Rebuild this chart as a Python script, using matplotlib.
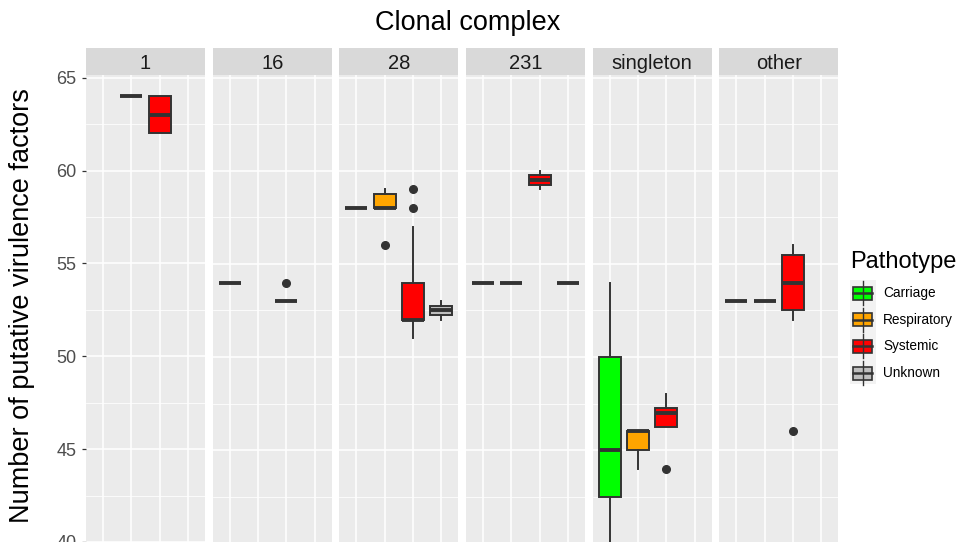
import matplotlib
matplotlib.use("Agg")
import matplotlib.pyplot as plt
from matplotlib.patches import Rectangle
from matplotlib.lines import Line2D
from matplotlib.ticker import MultipleLocator

plt.rcParams['font.family'] = ['Liberation Sans', 'DejaVu Sans']

facets = ["1", "16", "28", "231", "singleton", "other"]
pathotypes = ["Carriage", "Respiratory", "Systemic", "Unknown"]
colors = ["#00FF00", "#FFA500", "#FF0000", "#BEBEBE"]

box_facet = ["1", "1", "16", "16", "28", "28", "28", "28", "231", "231", "231", "231",
             "singleton", "singleton", "singleton", "other", "other", "other"]
box_type = ["Respiratory", "Systemic", "Carriage", "Systemic", "Carriage", "Respiratory",
            "Systemic", "Unknown", "Carriage", "Respiratory", "Systemic", "Unknown",
            "Carriage", "Respiratory", "Systemic", "Carriage", "Respiratory", "Systemic"]
box_whislo = [64, 62, 54, 53, 58, 58, 51, 52, 54, 54, 59, 54, 37, 44, 46.25, 53, 53, 52]
box_q1 = [64, 62, 54, 53, 58, 58, 52, 52.25, 54, 54, 59.25, 54, 42.5, 45, 46.25, 53, 53, 52.5]
box_med = [64, 63, 54, 53, 58, 58, 52, 52.5, 54, 54, 59.5, 54, 45, 46, 47, 53, 53, 54]
box_q3 = [64, 64, 54, 53, 58, 58.75, 54, 52.75, 54, 54, 59.75, 54, 50, 46, 47.25, 53, 53, 55.5]
box_whishi = [64, 64, 54, 53, 58, 59, 57, 53, 54, 54, 60, 54, 54, 46, 48, 53, 53, 56]
box_fliers = [[], [], [], [54], [], [56], [58, 59], [], [], [], [], [],
              [], [], [44], [], [], [46]]

y_ticks = [40, 45, 50, 55, 60, 65]

W, H = 962, 542
fig = plt.figure(figsize=(W / 100, H / 100), dpi=100)
fig.patch.set_facecolor("white")

panel_left = [86, 212.7, 339.3, 466, 592.7, 719.3]
panel_w = 119
panel_top = 75.5
strip_top = 48.3

EDGE = "#333333"

def fx(px):
    return px / W

def fy(py):
    return 1 - py / H

for i, fac in enumerate(facets):
    ax = fig.add_axes([fx(panel_left[i]), 0, panel_w / W, fy(panel_top)])
    ax.set_facecolor("#EBEBEB")
    for s in ax.spines.values():
        s.set_visible(False)
    ax.set_xlim(0.4, 4.6)
    ax.set_ylim(40.06, 65.12)
    ax.yaxis.set_major_locator(MultipleLocator(5))
    ax.yaxis.set_minor_locator(MultipleLocator(2.5))
    ax.set_xticks([1, 2, 3, 4])
    ax.grid(True, which="major", color="white", lw=1.1)
    ax.grid(True, which="minor", axis="y", color="white", lw=0.55)
    ax.set_axisbelow(True)
    ax.tick_params(axis="x", length=0, labelbottom=False)
    ax.tick_params(axis="y", which="minor", length=0)
    if i == 0:
        ax.set_yticks(y_ticks)
        ax.tick_params(axis="y", which="major", length=3, width=0.9, color=EDGE,
                       labelsize=13, labelcolor="#4D4D4D", pad=4)
    else:
        ax.tick_params(axis="y", which="major", length=0, labelleft=False)

    stats, pos, cols = [], [], []
    for j in range(len(box_facet)):
        if box_facet[j] != fac:
            continue
        k = pathotypes.index(box_type[j])
        stats.append(dict(med=box_med[j], q1=box_q1[j], q3=box_q3[j],
                          whislo=box_whislo[j], whishi=box_whishi[j],
                          fliers=box_fliers[j]))
        pos.append(k + 1)
        cols.append(colors[k])
    if stats:
        bp = ax.bxp(stats, positions=pos, widths=0.77, patch_artist=True,
                    showcaps=False, manage_ticks=False,
                    boxprops=dict(edgecolor=EDGE, linewidth=1.4),
                    whiskerprops=dict(color=EDGE, linewidth=1.4),
                    medianprops=dict(color=EDGE, linewidth=2.8, solid_capstyle="butt"),
                    flierprops=dict(marker="o", markerfacecolor=EDGE,
                                    markeredgecolor=EDGE, markersize=5.5))
        for patch, c in zip(bp["boxes"], cols):
            patch.set_facecolor(c)

    # strip
    sax = fig.add_axes([fx(panel_left[i]), fy(panel_top - 0.3), panel_w / W,
                        (panel_top - 0.3 - strip_top) / H])
    sax.set_facecolor("#D9D9D9")
    sax.set_xticks([]); sax.set_yticks([])
    for s in sax.spines.values():
        s.set_visible(False)
    sax.text(0.5, 0.45, fac, ha="center", va="center", fontsize=14.5,
             color="#1A1A1A", transform=sax.transAxes)

fig.text(fx(468), fy(23), "Clonal complex", ha="center", va="center",
         fontsize=19.5, color="black")
fig.text(fx(22), fy(306), "Number of putative virulence factors", ha="center",
         va="center", rotation=90, fontsize=19.5, color="black")

# legend
lax = fig.add_axes([0, 0, 1, 1])
lax.set_xlim(0, W); lax.set_ylim(H, 0)
lax.axis("off")
lax.patch.set_alpha(0)
lax.text(850, 262, "Pathotype", ha="left", va="center", fontsize=17, color="black")
lax.add_patch(Rectangle((850, 280), 26, 104, facecolor="#F2F2F2", edgecolor="none"))
for k, (name, c) in enumerate(zip(pathotypes, colors)):
    cy = 293 + k * 26.7
    lax.add_line(Line2D([863, 863], [cy - 12, cy + 12], color=EDGE, lw=1.0))
    lax.add_patch(Rectangle((853.5, cy - 6.5), 19, 13, facecolor=c,
                            edgecolor=EDGE, lw=1.2))
    lax.add_line(Line2D([853.5, 872.5], [cy, cy], color=EDGE, lw=1.8))
    lax.text(883, cy, name, ha="left", va="center", fontsize=9.8, color="black")

fig.savefig("out.png", dpi=100)
